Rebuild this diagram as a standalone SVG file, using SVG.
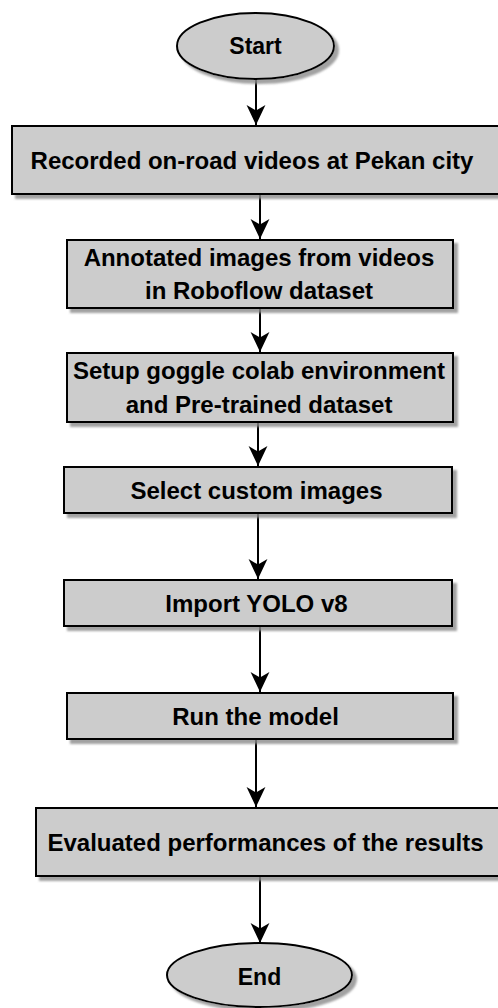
<svg xmlns="http://www.w3.org/2000/svg" width="498" height="1008" viewBox="0 0 498 1008">
<style>
.box{fill:#cccccc;stroke:#000;stroke-width:2;filter:url(#sh)}
.t{font-family:"Liberation Sans",Arial,sans-serif;font-weight:bold;font-size:24px;fill:#000;text-anchor:middle}
.te{font-size:23px}
.c{stroke:#000;stroke-width:2;fill:none;marker-end:url(#ah)}
</style>
<defs>
<filter id="sh" x="-10%" y="-20%" width="130%" height="150%">
<feDropShadow dx="4" dy="4" stdDeviation="1" flood-color="#8a8a8a" flood-opacity="0.8"/>
</filter>
<marker id="ah" markerUnits="userSpaceOnUse" markerWidth="20" markerHeight="20" viewBox="0 0 18 18" refX="18" refY="9" orient="auto">
<path d="M0,0.5 L18,9 L0,17.5 L5,9 Z" fill="#000"/>
</marker>
</defs>
<rect width="498" height="1008" fill="#fff"/>
<g id="connectors">
<line class="c" x1="256" y1="79" x2="256" y2="125"/>
<line class="c" x1="260" y1="194" x2="260" y2="239"/>
<line class="c" x1="260" y1="308" x2="260" y2="352"/>
<line class="c" x1="258" y1="422" x2="258" y2="466"/>
<line class="c" x1="258" y1="513" x2="258" y2="579"/>
<line class="c" x1="260" y1="626" x2="260" y2="692"/>
<line class="c" x1="256" y1="739" x2="256" y2="807"/>
<line class="c" x1="260" y1="876" x2="260" y2="943"/>
</g>
<g id="start">
<ellipse class="box" cx="255.5" cy="46" rx="78.5" ry="33"/>
<text class="t te" x="255.5" y="54">Start</text>
</g>
<g id="n1">
<rect class="box" x="12" y="126" width="496" height="68"/>
<text class="t" x="252" y="169">Recorded on-road videos at Pekan city</text>
</g>
<g id="n2">
<rect class="box" x="67" y="240" width="386" height="68"/>
<text class="t" x="259" y="265.5">Annotated images from videos</text>
<text class="t" x="259" y="299">in Roboflow dataset</text>
</g>
<g id="n3">
<rect class="box" x="67" y="353" width="386" height="69"/>
<text class="t" x="259" y="379">Setup goggle colab environment</text>
<text class="t" x="259" y="412.5">and Pre-trained dataset</text>
</g>
<g id="n4">
<rect class="box" x="64" y="467" width="388" height="46"/>
<text class="t" x="256.5" y="498.5">Select custom images</text>
</g>
<g id="n5">
<rect class="box" x="64" y="580" width="388" height="46"/>
<text class="t" x="256.5" y="611.5">Import YOLO v8</text>
</g>
<g id="n6">
<rect class="box" x="67" y="693" width="386" height="46"/>
<text class="t" x="255.5" y="724.5">Run the model</text>
</g>
<g id="n7">
<rect class="box" x="36" y="808" width="472" height="68"/>
<text class="t" x="265.5" y="850.5">Evaluated performances of the results</text>
</g>
<g id="end">
<ellipse class="box" cx="259.5" cy="975" rx="92.5" ry="32"/>
<text class="t te" x="259.5" y="985">End</text>
</g>
</svg>
